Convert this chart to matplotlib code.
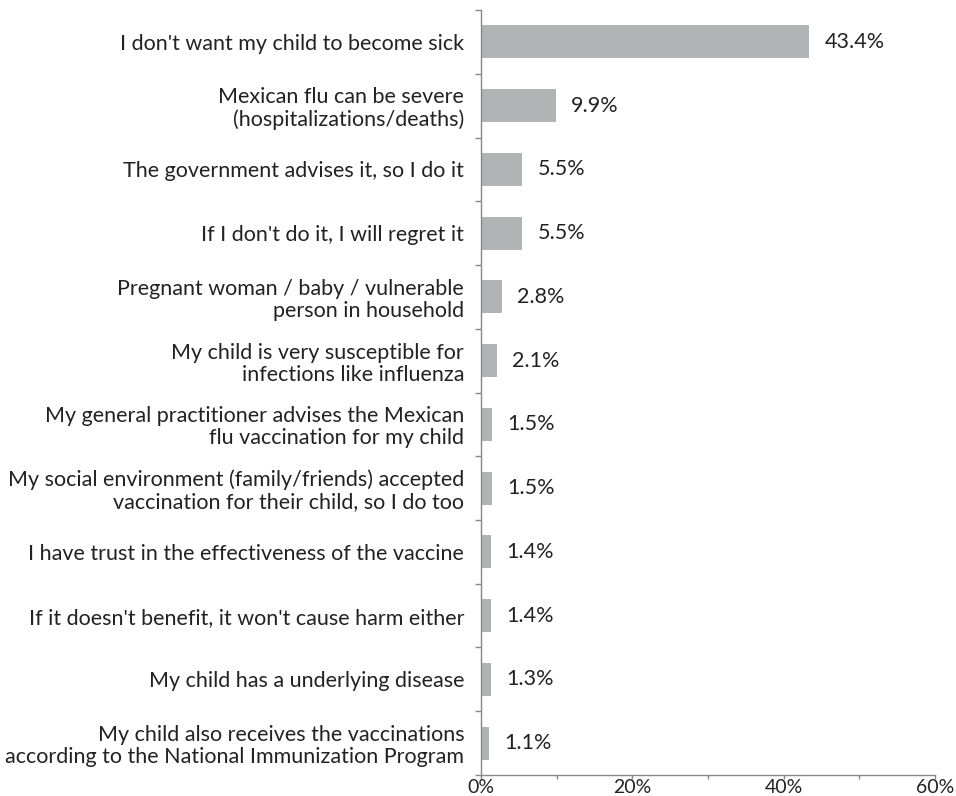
import matplotlib
matplotlib.use("Agg")
import matplotlib.pyplot as plt
from matplotlib.ticker import MultipleLocator, FuncFormatter

plt.rcParams['font.family'] = ['Lato', 'DejaVu Sans']

categories = [
    "I don't want my child to become sick",
    "Mexican flu can be severe\n(hospitalizations/deaths)",
    "The government advises it, so I do it",
    "If I don't do it, I will regret it",
    "Pregnant woman / baby / vulnerable\nperson in household",
    "My child is very susceptible for\ninfections like influenza",
    "My general practitioner advises the Mexican\nflu vaccination for my child",
    "My social environment (family/friends) accepted\nvaccination for their child, so I do too",
    "I have trust in the effectiveness of the vaccine",
    "If it doesn't benefit, it won't cause harm either",
    "My child has a underlying disease",
    "My child also receives the vaccinations\naccording to the National Immunization Program",
]
values = [43.4, 9.9, 5.5, 5.5, 2.8, 2.1, 1.5, 1.5, 1.4, 1.4, 1.3, 1.1]
x_ticks = [0, 20, 40, 60]

fig = plt.figure(figsize=(9.56, 7.96), dpi=100)
ax = fig.add_axes([0.503, 0.0264, 0.475, 0.961])

n = len(categories)
ypos = list(range(n))
ax.barh(ypos, values, height=0.52, color="#b2b3b5", zorder=2)
ax.set_ylim(n - 0.5, -0.5)
ax.set_xlim(0, 60)

for y, v in zip(ypos, values):
    ax.annotate(f"{v:.1f}%", xy=(v, y), xytext=(11, 0), textcoords="offset points",
                ha="left", va="center", fontsize=15.5, color="#222222")

ax.set_yticks(ypos)
ax.set_yticklabels(categories, fontsize=15.5, color="#222222", linespacing=1.12)
ax.tick_params(axis="y", length=0, pad=12)
ax.set_yticks([i - 0.5 for i in range(n + 1)], minor=True)
ax.tick_params(axis="y", which="minor", length=4, color="#888888", width=1)

ax.set_xticks(x_ticks)
ax.xaxis.set_major_formatter(FuncFormatter(lambda x, p: f"{x:.0f}%"))
ax.xaxis.set_minor_locator(MultipleLocator(10))
ax.tick_params(axis="x", which="both", length=3, color="#888888", width=1,
               labelsize=14, labelcolor="#222222", pad=0)

for s in ["top", "right"]:
    ax.spines[s].set_visible(False)
for s in ["left", "bottom"]:
    ax.spines[s].set_color("#888888")
    ax.spines[s].set_linewidth(1)

fig.savefig("out.png", dpi=100)
